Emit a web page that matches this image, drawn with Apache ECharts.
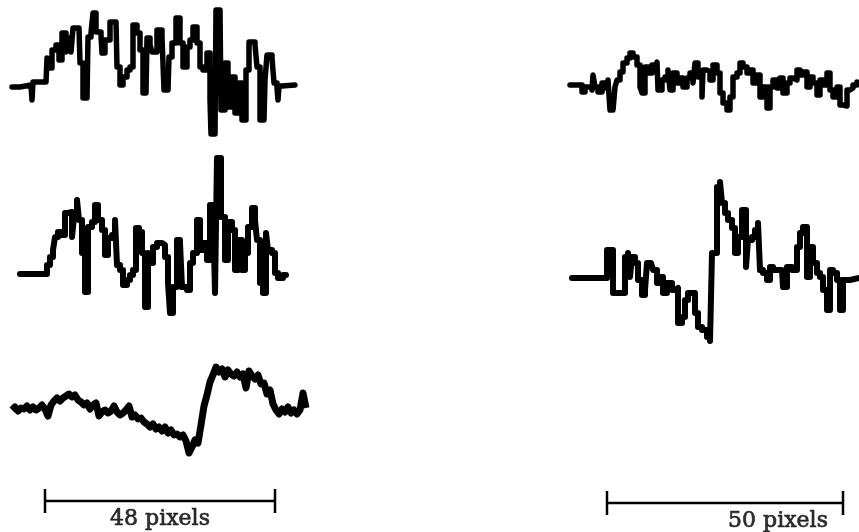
<!DOCTYPE html>
<html><head><meta charset="utf-8">
<script src="https://cdn.jsdelivr.net/npm/echarts@6/dist/echarts.min.js"></script>
<style>html,body{margin:0;padding:0;background:#fff}#c{width:859px;height:532px}</style>
</head><body><div id="c"></div>
<script>
// Trace readings: [position, level] (level grows downward)
const trace1 = [[12,87],[20,85],[31,84],[32,100],[33,82],[46,81],[47,58],[49,68],[52,50],[56,45],[59,60],[62,33],[66,52],[68,38],[71,52],[73,28],[79,28],[80,63],[83,98],[87,98],[88,37],[91,33],[93,13],[96,32],[101,35],[102,53],[105,40],[110,22],[116,22],[117,67],[120,85],[123,77],[127,70],[130,67],[133,25],[137,33],[140,50],[143,93],[146,93],[147,38],[150,45],[152,52],[157,30],[162,37],[164,90],[168,90],[169,57],[172,43],[176,18],[180,43],[183,67],[187,47],[190,40],[193,27],[197,43],[200,67],[203,70],[207,53],[210,100],[211,134],[215,134],[216,10],[220,10],[221,110],[225,63],[228,107],[232,77],[235,113],[239,83],[242,120],[246,70],[249,42],[255,45],[257,67],[260,120],[264,120],[265,80],[267,55],[272,58],[274,83],[277,88],[278,100],[279,86],[282,85],[295,85]];
const trace2 = [[20,274],[47,265],[50,257],[53,250],[55,237],[58,232],[62,235],[65,213],[68,212],[72,237],[74,217],[77,200],[79,220],[82,253],[85,292],[88,227],[92,222],[95,205],[98,220],[102,230],[105,255],[108,238],[112,235],[115,220],[117,265],[120,270],[123,285],[127,280],[130,275],[133,270],[136,228],[139,232],[142,253],[145,307],[148,253],[150,263],[153,247],[157,243],[162,245],[165,257],[168,283],[170,313],[173,287],[177,240],[180,243],[182,287],[187,290],[190,263],[193,253],[197,220],[200,250],[203,243],[207,260],[210,205],[213,208],[215,293],[217,158],[221,217],[225,260],[228,222],[232,230],[235,270],[238,240],[242,270],[245,253],[248,227],[252,208],[255,220],[257,240],[260,283],[263,293],[266,233],[268,250],[272,253],[275,273],[278,278],[283,275],[286,275]];
const trace3Start = 12, trace3Step = 3;
const trace3 = [410,407,411,408,409,406,410,407,410,408,405,409,416,405,401,398,401,398,396,394,397,395,400,402,405,403,409,405,403,416,412,410,413,411,406,412,415,413,410,406,417,415,419,418,422,424,427,424,429,427,431,427,433,430,435,434,437,435,441,453,447,440,443,425,406,395,382,375,367,372,369,377,370,374,376,372,377,374,388,371,376,379,375,384,383,394,390,404,410,414,409,412,407,413,410,414,410,393,408];
const trace4 = [[570,85],[582,92],[585,87],[592,90],[593,75],[595,87],[598,92],[602,83],[605,88],[608,80],[610,110],[613,108],[615,87],[617,80],[620,72],[623,63],[627,58],[630,53],[633,57],[637,65],[640,87],[642,93],[645,67],[648,73],[652,65],[655,68],[657,62],[658,90],[662,80],[665,77],[668,70],[670,90],[673,73],[677,83],[680,78],[683,87],[687,78],[690,73],[693,83],[695,63],[698,77],[702,97],[703,70],[707,72],[710,80],[713,65],[717,73],[720,93],[723,103],[727,110],[730,97],[733,77],[737,73],[740,63],[743,67],[747,73],[750,70],[753,83],[757,75],[760,97],[763,87],[767,108],[770,87],[773,80],[777,88],[780,78],[783,93],[787,83],[790,78],[793,80],[797,70],[800,75],[803,72],[807,87],[810,77],[813,83],[817,95],[820,80],[823,85],[827,73],[830,90],[833,97],[837,87],[840,105],[843,106],[847,90],[850,88],[853,85],[857,82]];
const trace5 = [[572,278],[607,250],[610,250],[613,293],[625,257],[628,253],[630,277],[632,257],[635,263],[638,280],[642,295],[645,290],[647,263],[651,265],[653,270],[657,283],[660,277],[663,293],[667,283],[672,290],[675,288],[678,323],[682,317],[685,300],[688,293],[692,293],[695,313],[698,327],[702,330],[707,337],[710,341],[712,253],[717,187],[720,182],[722,203],[725,213],[728,220],[732,228],[735,253],[738,237],[742,210],[746,267],[748,240],[752,237],[755,230],[758,223],[760,270],[763,273],[767,280],[770,267],[773,270],[782,270],[783,287],[787,267],[792,270],[797,247],[800,233],[803,227],[807,277],[810,247],[813,263],[817,273],[820,277],[823,290],[827,310],[830,270],[833,273],[837,280],[840,310],[843,280],[850,278],[859,278]];
// Scale bars
const scaleBarFrom = [45, 607];
const scaleBarTo = [275, 843];
const scaleBarLevel = [501, 503];
const scaleLabels = ['48 pixels', '50 pixels'];
const scaleLabelAt = [[160, 519], [778, 521]];

const chart = echarts.init(document.getElementById('c'));
const stepSeries = (d, w) => ({
  type: 'line', data: d, step: 'end', symbol: 'none', silent: true,
  lineStyle: { color: '#000', width: w, join: 'round', cap: 'round' }
});
const t3 = trace3.map((v, i) => [trace3Start + i * trace3Step, v]);
const bars = scaleBarFrom.map((f, i) => {
  const t = scaleBarTo[i], y = scaleBarLevel[i];
  return {
    type: 'line', symbol: 'none', silent: true,
    data: [[f, y - 12], [f, y + 12], [f, y], [t, y], [t, y - 12], [t, y + 12]],
    lineStyle: { color: '#000', width: 2.5 }
  };
});
const labels = {
  type: 'scatter', symbolSize: 0, silent: true,
  data: scaleLabels.map((s, i) => ({ value: scaleLabelAt[i], name: s })),
  label: { show: true, position: 'inside', formatter: p => p.name, color: '#000', fontFamily: 'DejaVu Serif', fontSize: 22, textBorderColor: '#000', textBorderWidth: 0.7 }
};
chart.setOption({
  animation: false,
  grid: { left: 0, right: 0, top: 0, bottom: 0 },
  xAxis: { type: 'value', min: 0, max: 859, show: false },
  yAxis: { type: 'value', min: 0, max: 532, inverse: true, show: false },
  series: [
    stepSeries(trace1, 5.5),
    stepSeries(trace2, 6),
    { type: 'line', data: t3, symbol: 'none', silent: true, lineStyle: { color: '#000', width: 7, join: 'round' } },
    stepSeries(trace4, 5.5),
    stepSeries(trace5, 6),
    ...bars,
    labels
  ]
});
</script></body></html>
